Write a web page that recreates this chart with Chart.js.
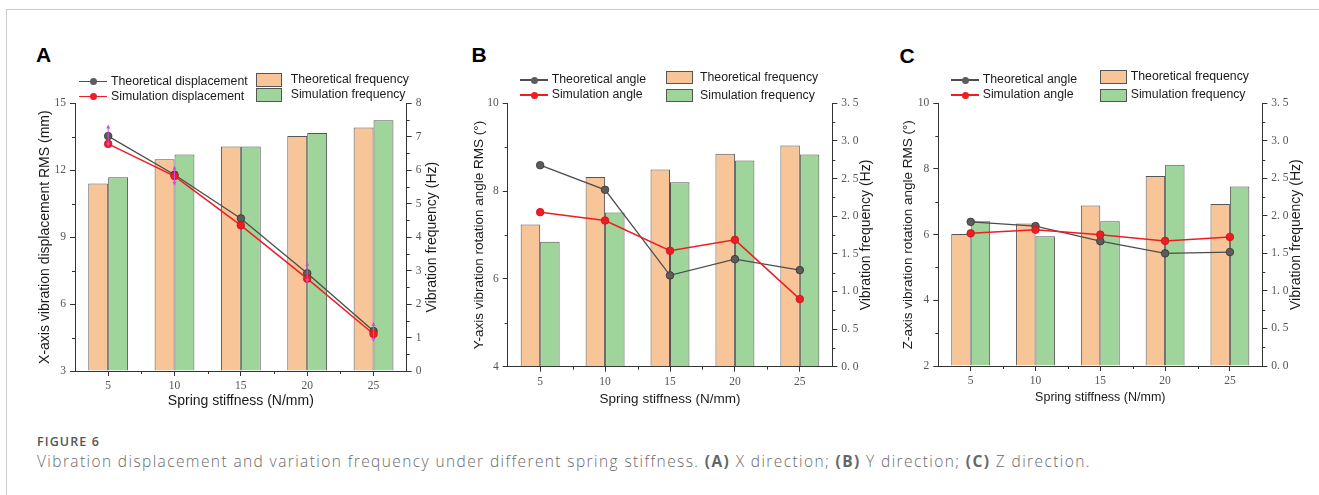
<!DOCTYPE html>
<html>
<head>
<meta charset="utf-8">
<script src="https://cdn.jsdelivr.net/npm/chart.js@4.4.1/dist/chart.umd.min.js"></script>
<style>
html,body{margin:0;padding:0;background:#fff;}
body{width:1319px;height:495px;overflow:hidden;position:relative;font-family:"Liberation Sans",Arial,sans-serif;}
.frame{position:absolute;left:6px;top:9px;width:1320px;height:500px;border-top:1px solid #cdcdcd;border-left:1px solid #cdcdcd;}
canvas{position:absolute;}
.plabel{position:absolute;font:bold 21px/1 "Liberation Sans",Arial,sans-serif;color:#000;}
.lg{position:absolute;font:12.3px/1 "Liberation Sans",Arial,sans-serif;color:#1a1a1a;white-space:nowrap;}
.icon{position:absolute;}
.figno{position:absolute;left:37px;top:436px;font:600 12.5px/1 "Open Sans",sans-serif;color:#555;letter-spacing:1.1px;}
.cap{position:absolute;left:37px;top:454px;font:300 15.5px/1 "Open Sans",sans-serif;color:#6a6a6a;white-space:nowrap;letter-spacing:1.4px;}
.cap b{font-weight:700;color:#666;}
</style>
</head>
<body>
<div class="frame"></div>
<div class="plabel" style="left:36px;top:43.9px">A</div>
<div class="plabel" style="left:471.5px;top:43.9px">B</div>
<div class="plabel" style="left:899.5px;top:44.5px">C</div>
<canvas id="cA" width="440" height="360" style="left:15px;top:55px"></canvas>
<canvas id="cB" width="440" height="360" style="left:455px;top:55px"></canvas>
<canvas id="cC" width="434" height="360" style="left:885px;top:55px"></canvas>
<div id="legends"></div>
<div class="figno">FIGURE 6</div>
<div class="cap">Vibration displacement and variation frequency under different spring stiffness. <b>(A)</b> X direction; <b>(B)</b> Y direction; <b>(C)</b> Z direction.</div>
<script>
// ---------- data ----------
const stiffness = ['5', '10', '15', '20', '25'];
const xTitle = 'Spring stiffness (N/mm)';
const rightTitle = 'Vibration frequency (Hz)';
const barLabels = ['Theoretical frequency', 'Simulation frequency'];

// Panel A (X direction)
const aLineLabels = ['Theoretical displacement', 'Simulation displacement'];
const aTheoDisp = [13.53, 11.80, 9.84, 7.38, 4.79];
const aSimDisp  = [13.18, 11.74, 9.53, 7.14, 4.66];
const aTheoFreq = [5.60, 6.33, 6.71, 7.02, 7.28];
const aSimFreq  = [5.79, 6.47, 6.71, 7.11, 7.49];
const aErrLow   = [13.05, 11.30, null, 6.95, 4.30];
const aErrHigh  = [14.05, 12.20, null, 7.90, 5.20];
const aLeftTicks  = [3, 15, 3];
const aRightTicks = [0, 8, 1];

// Panel B (Y direction)
const bLineLabels = ['Theoretical angle', 'Simulation angle'];
const bTheoAngle = [8.59, 8.03, 6.08, 6.45, 6.20];
const bSimAngle  = [7.52, 7.33, 6.64, 6.89, 5.54];
const bTheoFreq  = [1.89, 2.52, 2.62, 2.83, 2.94];
const bSimFreq   = [1.66, 2.05, 2.45, 2.74, 2.82];
const bLeftTicks  = [4, 10, 2];
const bRightTicks = [0, 3.5, 0.5];

// Panel C (Z direction)
const cLineLabels = ['Theoretical angle', 'Simulation angle'];
const cTheoAngle = [6.39, 6.26, 5.80, 5.43, 5.47];
const cSimAngle  = [6.04, 6.15, 6.00, 5.81, 5.93];
const cTheoFreq  = [1.76, 1.90, 2.14, 2.53, 2.16];
const cSimFreq   = [1.93, 1.73, 1.93, 2.68, 2.39];
const cLeftTicks  = [2, 10, 2];
const cRightTicks = [0, 3.5, 0.5];

// ---------- styles ----------
const GREY_LINE = '#4d4d4d', RED = '#ee1d23', ORANGE = '#f8c599', GREEN = '#9fd49a', AXIS = '#333';
const SANS = '"Liberation Sans", Arial, sans-serif';

const minorTicks = {
  id: 'minorTicks',
  afterDraw(chart) {
    const ctx = chart.ctx;
    ctx.save();
    ctx.strokeStyle = AXIS; ctx.lineWidth = 1;
    ['y', 'y1'].forEach(id => {
      const s = chart.scales[id];
      const step = s.options.ticks.stepSize;
      const n = Math.round((s.max - s.min) / step);
      for (let i = 0; i < n; i++) {
        const v = s.min + step * (i + 0.5);
        const py = Math.round(s.getPixelForValue(v)) + 0.5;
        ctx.beginPath();
        if (s.position === 'left') { ctx.moveTo(s.right, py); ctx.lineTo(s.right - 3, py); }
        else { ctx.moveTo(s.left, py); ctx.lineTo(s.left + 3, py); }
        ctx.stroke();
      }
    });
    const x = chart.scales.x;
    for (let i = 0; i < x.ticks.length - 1; i++) {
      const px = Math.round((x.getPixelForTick(i) + x.getPixelForTick(i + 1)) / 2) + 0.5;
      ctx.beginPath(); ctx.moveTo(px, x.top); ctx.lineTo(px, x.top + 3); ctx.stroke();
    }
    ctx.restore();
  }
};

// right-axis title drawn bottom-to-top, like the reference
const rightTitlePlugin = {
  id: 'rightTitle',
  afterDraw(chart, args, opts) {
    const ctx = chart.ctx, a = chart.chartArea;
    ctx.save();
    ctx.translate(opts.x, (a.top + a.bottom) / 2);
    ctx.rotate(-Math.PI / 2);
    ctx.font = `${opts.size}px ${SANS}`;
    ctx.fillStyle = '#1a1a1a';
    ctx.textAlign = 'center';
    ctx.textBaseline = 'middle';
    ctx.fillText(opts.text, 0, 0);
    ctx.restore();
  }
};

const errBars = {
  id: 'errBars',
  afterDatasetsDraw(chart, args, opts) {
    if (!opts || !opts.low) return;
    const ctx = chart.ctx, x = chart.scales.x, y = chart.scales.y;
    ctx.save();
    ctx.strokeStyle = '#d04fd6'; ctx.fillStyle = '#d04fd6'; ctx.lineWidth = 1;
    opts.low.forEach((lo, i) => {
      const hi = opts.high[i];
      if (lo == null || hi == null) return;
      const px = x.getPixelForValue(i);
      const y1 = y.getPixelForValue(hi), y2 = y.getPixelForValue(lo);
      ctx.beginPath(); ctx.moveTo(px, y1 + 2); ctx.lineTo(px, y2 - 2); ctx.stroke();
      ctx.beginPath(); ctx.moveTo(px, y1); ctx.lineTo(px - 2, y1 + 4); ctx.lineTo(px + 2, y1 + 4); ctx.closePath(); ctx.fill();
      ctx.beginPath(); ctx.moveTo(px, y2); ctx.lineTo(px - 2, y2 - 4); ctx.lineTo(px + 2, y2 - 4); ctx.closePath(); ctx.fill();
    });
    ctx.restore();
  }
};

function fmtRight(step) {
  return v => step < 1 ? v.toFixed(1).replace('.', '. ') : String(v);
}

function makeChart(id, cfg) {
  const tickFont = { family: '"Liberation Serif", "Times New Roman", serif', size: 11.5 };
  return new Chart(document.getElementById(id), {
    data: {
      labels: stiffness,
      datasets: [
        { type: 'line', label: cfg.lineLabels[0], data: cfg.theo, yAxisID: 'y', borderColor: GREY_LINE, borderWidth: 1.3,
          pointBackgroundColor: '#5c5c5c', pointBorderColor: '#333', pointBorderWidth: 0.8, pointRadius: 3.8, order: 1 },
        { type: 'line', label: cfg.lineLabels[1], data: cfg.sim, yAxisID: 'y', borderColor: RED, borderWidth: 1.5,
          pointBackgroundColor: RED, pointBorderColor: '#c8141a', pointBorderWidth: 0.8, pointRadius: 3.8, order: 0 },
        { type: 'bar', label: barLabels[0], data: cfg.tf, yAxisID: 'y1', backgroundColor: ORANGE, borderColor: '#555',
          borderWidth: 1, categoryPercentage: 0.6, barPercentage: 1, order: 2 },
        { type: 'bar', label: barLabels[1], data: cfg.sf, yAxisID: 'y1', backgroundColor: GREEN, borderColor: '#555',
          borderWidth: 1, categoryPercentage: 0.6, barPercentage: 1, order: 2 }
      ]
    },
    options: {
      responsive: false, animation: false, devicePixelRatio: 1,
      layout: { padding: { top: cfg.padTop, left: 0, right: 0, bottom: 0 } },
      plugins: {
        legend: { display: false }, tooltip: { enabled: false }, errBars: cfg.err || {},
        rightTitle: { text: rightTitle, x: cfg.rightTitleX, size: 14 }
      },
      scales: {
        x: {
          type: 'category', offset: true,
          grid: { display: true, drawOnChartArea: false, offset: false, tickLength: 5, color: AXIS },
          border: { display: true, color: AXIS, width: 1 },
          ticks: { font: tickFont, color: '#555', padding: 3, maxRotation: 0 },
          title: { display: true, text: xTitle, color: '#1a1a1a', font: { family: SANS, size: cfg.xTitleSize }, padding: { top: 0, bottom: cfg.xTitlePad } },
          afterFit(s) { s.height = cfg.xH; }
        },
        y: {
          position: 'left', min: cfg.left[0], max: cfg.left[1],
          grid: { display: true, drawOnChartArea: false, tickLength: 5, color: AXIS },
          border: { display: true, color: AXIS, width: 1 },
          ticks: { stepSize: cfg.left[2], font: tickFont, color: '#555', padding: 4 },
          title: { display: true, text: cfg.leftTitle, color: '#1a1a1a', font: { family: SANS, size: cfg.leftTitleSize }, padding: { top: cfg.leftTitlePad, bottom: 0 } },
          afterFit(s) { s.width = cfg.leftW; }
        },
        y1: {
          position: 'right', min: cfg.right[0], max: cfg.right[1],
          grid: { display: true, drawOnChartArea: false, tickLength: 5, color: AXIS },
          border: { display: true, color: AXIS, width: 1 },
          ticks: { stepSize: cfg.right[2], font: tickFont, color: '#555', padding: 4, callback: fmtRight(cfg.right[2]) },
          title: { display: false },
          afterFit(s) { s.width = cfg.rightW; }
        }
      }
    },
    plugins: [minorTicks, errBars, rightTitlePlugin]
  });
}

makeChart('cA', {
  lineLabels: aLineLabels, theo: aTheoDisp, sim: aSimDisp, tf: aTheoFreq, sf: aSimFreq,
  left: aLeftTicks, right: aRightTicks, err: { low: aErrLow, high: aErrHigh },
  leftTitle: 'X-axis vibration displacement RMS (mm)', leftTitleSize: 14, leftTitlePad: 21.6,
  rightTitleX: 417.5, xTitleSize: 14, xTitlePad: 5.6,
  padTop: 48.3, leftW: 60, rightW: 48.3, xH: 44
});
makeChart('cB', {
  lineLabels: bLineLabels, theo: bTheoAngle, sim: bSimAngle, tf: bTheoFreq, sf: bSimFreq,
  left: bLeftTicks, right: bRightTicks,
  leftTitle: 'Y-axis vibration rotation angle RMS (°)', leftTitleSize: 13.5, leftTitlePad: 15.9,
  rightTitleX: 411, xTitleSize: 13.5, xTitlePad: 7.9,
  padTop: 48.3, leftW: 52.7, rightW: 62.7, xH: 48.3
});
makeChart('cC', {
  lineLabels: cLineLabels, theo: cTheoAngle, sim: cSimAngle, tf: cTheoFreq, sf: cSimFreq,
  left: cLeftTicks, right: cRightTicks,
  leftTitle: 'Z-axis vibration rotation angle RMS (°)', leftTitleSize: 13.5, leftTitlePad: 15.4,
  rightTitleX: 411, xTitleSize: 12.5, xTitlePad: 9.8,
  padTop: 48.3, leftW: 53.3, rightW: 56.7, xH: 49
});

// ---------- legends (HTML) ----------
const legendSpecs = [
  { labels: aLineLabels, lineX: 79, textX: 111, rows: [81.7, 96.7],
    swX: 255.7, swW: 26.6, swRows: [[72.7, 14], [88.3, 14]], btX: 290.7, btRows: [80, 95] },
  { labels: bLineLabels, lineX: 520, textX: 551.7, rows: [80, 95],
    swX: 666, swW: 27.3, swRows: [[71, 13.3], [89, 13.3]], btX: 700, btRows: [77.7, 95.7] },
  { labels: cLineLabels, lineX: 951, textX: 982.7, rows: [80, 95],
    swX: 1100.3, swW: 27, swRows: [[70.3, 13.7], [88.7, 13.3]], btX: 1130.7, btRows: [77, 95] }
];
const lg = document.getElementById('legends');
function add(html) { lg.insertAdjacentHTML('beforeend', html); }
legendSpecs.forEach(sp => {
  [GREY_LINE, RED].forEach((col, i) => {
    const cy = sp.rows[i];
    const dot = i === 0 ? '#5c5c5c' : RED;
    add(`<div class="icon" style="left:${sp.lineX}px;top:${cy - 0.75}px;width:28px;height:1.5px;background:${col}"></div>`);
    add(`<div class="icon" style="left:${sp.lineX + 10.5}px;top:${cy - 3.5}px;width:7px;height:7px;border-radius:50%;background:${dot}"></div>`);
    add(`<div class="lg" style="left:${sp.textX}px;top:${cy - 6.6}px">${sp.labels[i]}</div>`);
  });
  [ORANGE, GREEN].forEach((col, i) => {
    const [t, h] = sp.swRows[i];
    add(`<div class="icon" style="left:${sp.swX}px;top:${t}px;width:${sp.swW - 2}px;height:${h - 2}px;background:${col};border:1px solid #555"></div>`);
    add(`<div class="lg" style="left:${sp.btX}px;top:${sp.btRows[i] - 6.6}px">${barLabels[i]}</div>`);
  });
});
</script>
</body>
</html>
